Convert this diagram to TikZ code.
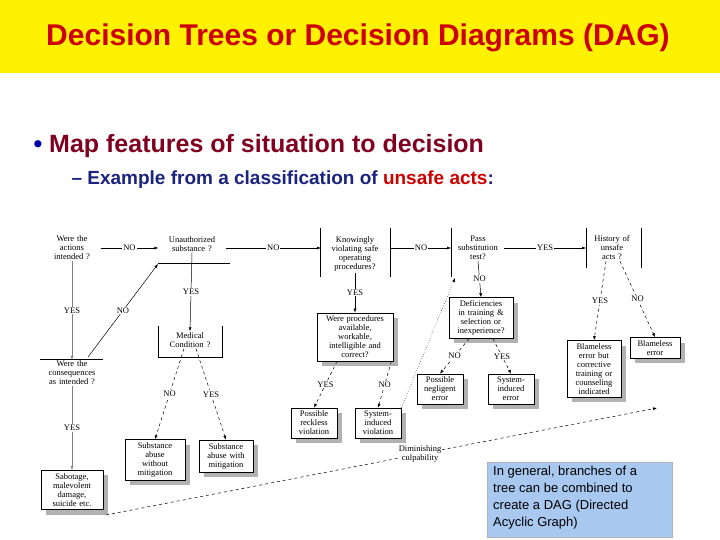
\documentclass[tikz,border=0pt]{standalone}
\usepackage{fontspec}
\setmainfont{Liberation Serif}
\newfontfamily\arial{Liberation Sans}
\usetikzlibrary{shadows,arrows.meta}
\definecolor{notebg}{HTML}{A8C8F0}
\definecolor{tred}{HTML}{CC0000}
\definecolor{tblue}{HTML}{0000AA}
\definecolor{tmaroon}{HTML}{800020}
\definecolor{tnavy}{HTML}{1A237E}
\begin{document}
\begin{tikzpicture}[x=1pt,y=-1pt,
  tx/.style={font=\fontsize{8.5}{9}\selectfont,align=center,inner sep=1pt},
  q/.style={tx,text width=#1},
  bx/.style={tx,draw,fill=white,line width=0.7pt,text width=#1,inner sep=3pt,
    drop shadow={shadow xshift=5pt,shadow yshift=-5pt,fill=black!30,opacity=1}},
  lab/.style={tx,fill=white},
  ar/.style={-{Latex[length=4pt,width=3pt]},line width=0.5pt},
  ln/.style={line width=0.7pt}]
\useasboundingbox (0,0) rectangle (720,540);
\fill[yellow] (0,0) rectangle (720,73);
\node[font=\arial\bfseries\fontsize{30}{32}\selectfont,text=tred] (title) at (358,38) {Decision Trees or Decision Diagrams (DAG)};
\node[anchor=west,font=\arial\bfseries\fontsize{25}{27}\selectfont] (b1) at (30,146) {\color{tblue}\textbullet\ \color{tmaroon}Map features of situation to decision};
\node[anchor=west,font=\arial\bfseries\fontsize{19}{21}\selectfont] (b2) at (68,180) {\color{tnavy}– Example from a classification of \color{tred}unsafe acts\color{tnavy}:};

% questions
\node[q=55pt] (a) at (72,248) {Were the\\actions\\intended ?};
\node[q=65pt] (u) at (192,244) {Unauthorized\\substance ?};
\draw[ln] (158,263) -- (230,263);
\node[q=66pt] (k) at (355,254) {Knowingly\\violating safe\\operating\\procedures?};
\draw[ln] (320,228) -- (320,277) (390,228) -- (390,277);
\node[q=50pt] (p) at (478,248) {Pass\\substitution\\test?};
\draw[ln] (451,228) -- (451,277);
\node[q=52pt] (h) at (612,248) {History of\\unsafe\\acts ?};
\draw[ln] (586,228) -- (586,268) (641,228) -- (641,268);
\node[q=62pt] (c) at (72,373) {Were the\\consequences\\as intended ?};
\draw[ln] (40,359) -- (103,359);
\node[q=58pt] (m) at (190,340) {Medical\\Condition ?};
\draw[ln] (158,326) -- (158,357) -- (222,357) -- (222,326);

% boxes
\node[bx=70pt] (w) at (355,337) {Were procedures\\available,\\workable,\\intelligible and\\correct?};
\node[bx=58pt] (d) at (481,318) {Deficiencies\\in training \&\\selection or\\inexperience?};
\node[bx=40pt] (pr) at (314,423) {Possible\\reckless\\violation};
\node[bx=40pt] (sv) at (378,423) {System-\\induced\\violation};
\node[bx=40pt] (pn) at (440,389) {Possible\\negligent\\error};
\node[bx=40pt] (se) at (511,389) {System-\\induced\\error};
\node[bx=48pt] (bc) at (594,369) {Blameless\\error but\\corrective\\training or\\counseling\\indicated};
\node[bx=44pt] (be) at (655,348) {Blameless\\error};
\node[bx=54pt] (sw) at (155,460) {Substance\\abuse\\without\\mitigation};
\node[bx=48pt] (sm) at (226,456) {Substance\\abuse with\\mitigation};
\node[bx=56pt] (sb) at (72,490) {Sabotage,\\malevolent\\damage,\\suicide etc.};

% connectors
\draw[ar] (a.east) -- node[lab]{NO} (a.east -| u.west);
\draw[ar] (u.east |- a.east) -- node[lab]{NO} (a.east -| k.west);
\draw[ar] (391,248) -- node[lab]{NO} (451,248);
\draw[ar] (p.east) -- node[lab]{YES} (586,248);
\draw[ar,black!50] (a.south) -- node[lab,text=black]{YES} (c.north);
\draw[ar] (88,357) -- node[lab]{NO} (158,264);
\draw[ar] (u.south) -- node[lab]{YES} (m.north);
\draw[ar,black!50] (c.south) -- node[lab,text=black]{YES} (sb.north);
\draw[ar,dashed] ([xshift=-6pt]m.south) -- node[lab]{NO} (sw.north);
\draw[ar,dashed] ([xshift=6pt]m.south) -- node[lab]{YES} (sm.north);
\draw[ar] (k.south) -- node[lab]{YES} (w.north);
\draw[ar,dashed] ([xshift=-18pt]w.south) -- node[lab]{YES} (pr.north);
\draw[ar,dashed] ([xshift=-2pt]w.south east) -- node[lab]{NO} (sv.north);
\draw[ar] (p.south) -- node[lab]{NO} (d.north);
\draw[ar,dashed] ([xshift=-12pt]d.south) -- node[lab]{NO} (pn.north);
\draw[ar,dashed] ([xshift=12pt]d.south) -- node[lab]{YES} (se.north);
\draw[ar,dotted] (sv.north east) -- (455,278);
\draw[ar,dashed] ([xshift=-6pt]h.south) -- node[lab]{YES} (bc.north);
\draw[ar,dashed] ([xshift=8pt]h.south) -- node[lab]{NO} (be.north);
\coordinate (dc1) at (106,515);
\coordinate (dc2) at (657,408);
\draw[ar,dashed] (dc1) -- node[lab,pos=0.57]{Diminishing\\culpability} (dc2);

% blue note
\node[draw=black!30,fill=notebg,minimum width=185pt,minimum height=75pt,anchor=north west,inner sep=0pt] (note) at (487,462) {};
\node[anchor=north west,align=left,inner sep=0pt,font=\arial\fontsize{13}{17}\selectfont] (nt) at (493,466) {In general, branches of a\\tree can be combined to\\create a DAG (Directed\\Acyclic Graph)};
\end{tikzpicture}
\end{document}
